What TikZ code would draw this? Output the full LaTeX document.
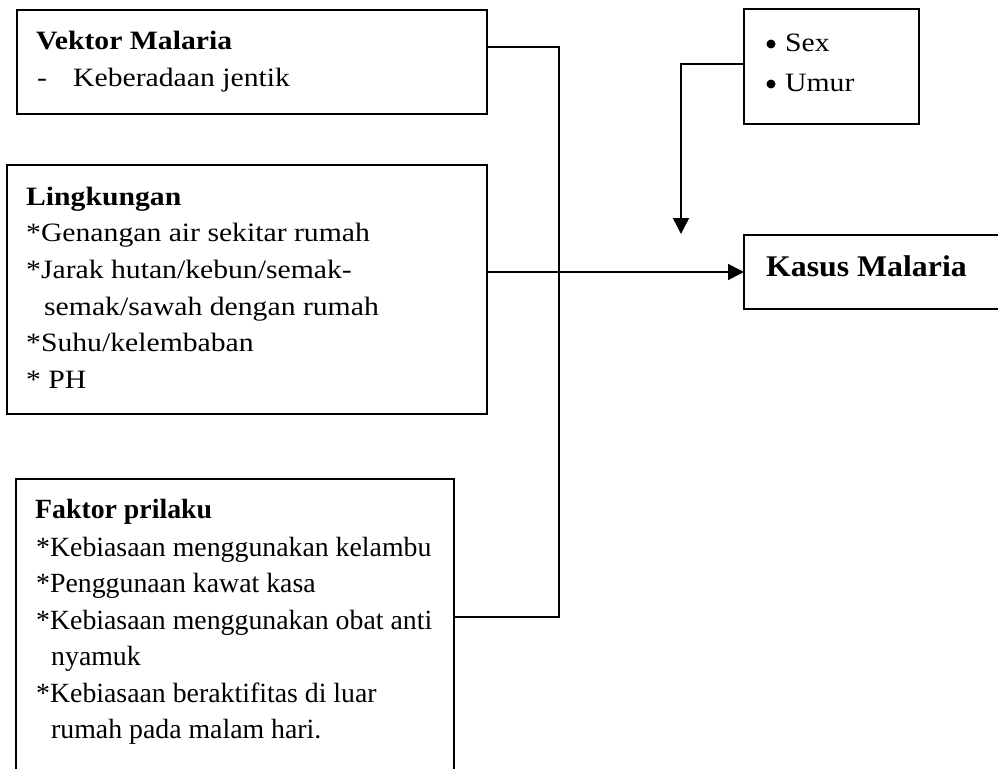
\documentclass[tikz,border=0pt]{standalone}
\usepackage{fontspec}
\setmainfont{Liberation Serif}
\newfontfamily\fA[FakeStretch=1.12]{Liberation Serif}
\newfontfamily\fK[FakeStretch=1.06]{Liberation Serif}
\usetikzlibrary{arrows.meta}
\tikzset{
  box/.style={draw, line width=1.5pt, inner sep=0pt, outer sep=0pt, anchor=north west},
  txt/.style={anchor=base west, inner sep=0pt, font=\fA\fontsize{26.5}{30}\selectfont},
  btxt/.style={txt, font=\fA\fontsize{26.5}{30}\selectfont\bfseries},
  ftxt/.style={anchor=base west, inner sep=0pt, font=\fontsize{27.8}{30}\selectfont},
  fbtxt/.style={ftxt, font=\fontsize{27.8}{30}\selectfont\bfseries},
  ktxt/.style={anchor=base west, inner sep=0pt, font=\fK\fontsize{30}{32}\selectfont\bfseries},
  dot/.style={circle, fill, inner sep=0pt, minimum size=9pt},
  conn/.style={line width=1.5pt},
  arr/.style={conn, -{Triangle[length=16pt,width=16pt]}}
}
\begin{document}
\begin{tikzpicture}[x=1pt,y=-1pt]
\useasboundingbox (0,0) rectangle (998,768);
\clip (0,0) rectangle (998,768);
% boxes
\node[box, minimum width=470pt, minimum height=104pt] (vek) at (17,10) {};
\node[box, minimum width=480pt, minimum height=249pt] (lin) at (7,165) {};
\node[box, minimum width=438pt, minimum height=300pt] (fak) at (16,479) {};
\node[box, minimum width=175pt, minimum height=115pt] (sex) at (744,9) {};
\node[box, minimum width=270pt, minimum height=74pt] (kas) at (744,235) {};
% texts: Vektor
\node[btxt] (t1) at (36,49) {Vektor Malaria};
\node[txt] (t2) at (37,86) {-};
\node[txt] (t3) at (73,86) {Keberadaan jentik};
% Lingkungan
\node[btxt] (l0) at (26,205) {Lingkungan};
\node[txt] (l1) at (26,241) {*Genangan air sekitar rumah};
\node[txt] (l2) at (26,278) {*Jarak hutan/kebun/semak-};
\node[txt] (l3) at (44,315) {semak/sawah dengan rumah};
\node[txt] (l4) at (26,351) {*Suhu/kelembaban};
\node[txt] (l5) at (26,388) {* PH};
% Faktor
\node[fbtxt] (f0) at (35,518) {Faktor prilaku};
\node[ftxt] (f1) at (36,556) {*Kebiasaan menggunakan kelambu};
\node[ftxt] (f2) at (36,592) {*Penggunaan kawat kasa};
\node[ftxt] (f3) at (36,629) {*Kebiasaan menggunakan obat anti};
\node[ftxt] (f4) at (51,665) {nyamuk};
\node[ftxt] (f5) at (36,702) {*Kebiasaan beraktifitas di luar};
\node[ftxt] (f6) at (51,738) {rumah pada malam hari.};
% Kasus
\node[ktxt] (k0) at (766,276) {Kasus Malaria};
% Sex
\node[dot] (s1) at (771,44) {};
\node[txt] (s2) at (785,52) {Sex};
\node[dot] (s3) at (771,84) {};
\node[txt] (s4) at (785,92) {Umur};
% connectors
\coordinate (jt) at (559,47);
\coordinate (jb) at (559,617);
\coordinate (sexend) at (681,234);
\draw[conn] (vek.east |- jt) -- (jt) -- (jb) -- (fak.east |- jb);
\draw[arr] (lin.east |- kas.west) -- (kas.west);
\draw[arr] (sex.west |- 0,64) -| (sexend);
\end{tikzpicture}
\end{document}
